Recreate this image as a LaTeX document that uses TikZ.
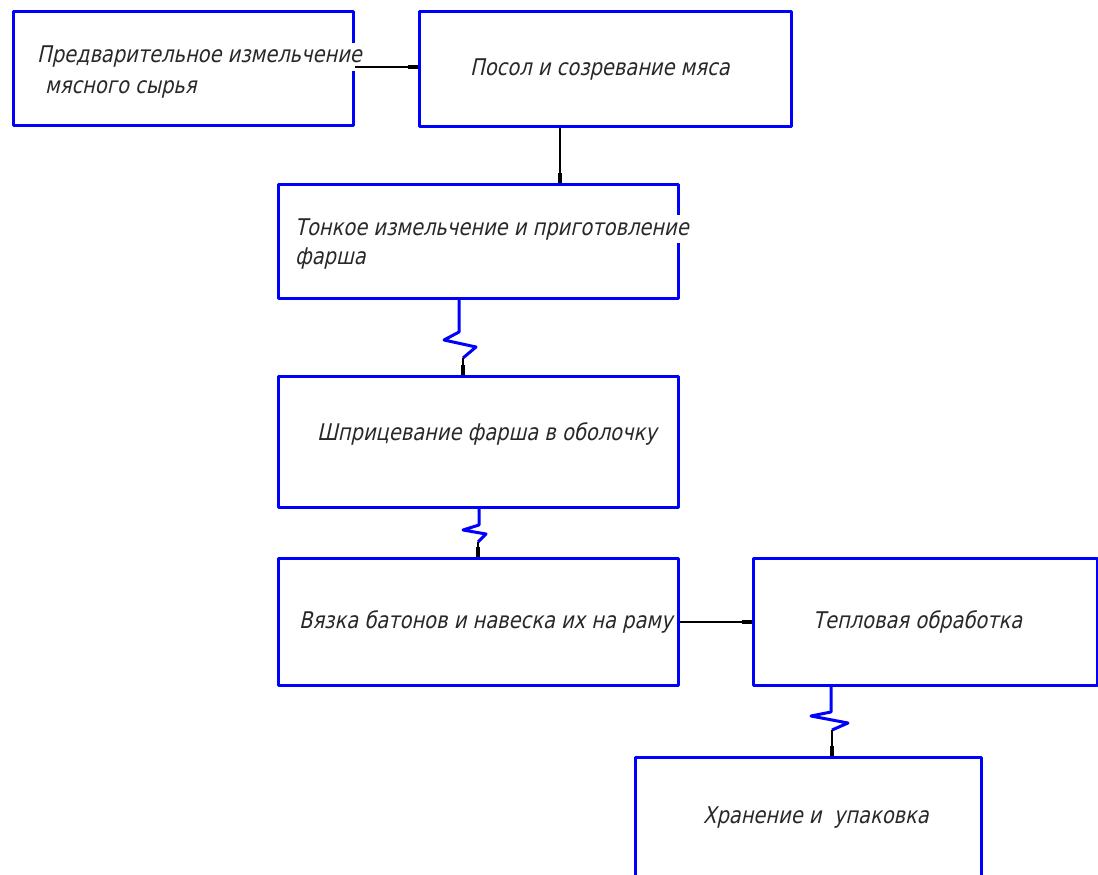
\documentclass[tikz,border=0pt]{standalone}
\usepackage{fontspec}
\newfontfamily\gost{DejaVu Sans}[FakeSlant=0.22,FakeStretch=0.845]
\usetikzlibrary{arrows.meta}
\definecolor{cadblue}{RGB}{0,0,255}
\definecolor{txtgray}{RGB}{40,40,40}
\begin{document}
\begin{tikzpicture}[x=1pt,y=-1pt,
  box/.style={draw=cadblue,line width=3pt,anchor=north west,inner sep=0pt,line join=round},
  lbl/.style={anchor=base west,inner sep=3pt,fill=white,text=txtgray,font=\gost\fontsize{23}{27}\selectfont},
  conn/.style={draw=black,line width=1.3pt,-{Rectangle[length=10pt,width=4.5pt]}},
  zig/.style={draw=cadblue,line width=3pt,line join=round}]
\useasboundingbox (0,0) rectangle (1098,875);
% boxes
\node[box,minimum width=340pt,minimum height=114pt] (b1) at (12,10) {};
\node[box,minimum width=372pt,minimum height=115pt] (b2) at (418,10) {};
\node[box,minimum width=400pt,minimum height=114pt] (b3) at (277,183) {};
\node[box,minimum width=400pt,minimum height=131pt] (b4) at (277,375) {};
\node[box,minimum width=400pt,minimum height=127pt] (b5) at (277,557) {};
\node[box,minimum width=344pt,minimum height=127pt] (b6) at (752,557) {};
\node[box,minimum width=346pt,minimum height=119pt] (b7) at (634,756) {};
% labels
\node[lbl] (t1a) at (34,63) {Предварительное измельчение};
\node[lbl] (t1b) at (42,93) {мясного сырья};
\node[lbl] (t2) at (467,75) {Посол и созревание мяса};
\node[lbl] (t3a) at (292,235) {Тонкое измельчение и приготовление};
\node[lbl] (t3b) at (292,264) {фарша};
\node[lbl] (t4) at (314,440) {Шприцевание фарша в оболочку};
\node[lbl] (t5) at (296,628) {Вязка батонов и навеска их на раму};
\node[lbl] (t6) at (810,628) {Тепловая обработка};
\node[lbl] (t7) at (700,823) {Хранение и\ \ упаковка};
% coordinates
\coordinate (h12) at (0,67);
\coordinate (v23) at (560,0);
\coordinate (z1) at (459,332);
\coordinate (z2) at (444,340);
\coordinate (z3) at (476,347);
\coordinate (z4) at (463,358);
\coordinate (y1) at (479,525);
\coordinate (y2) at (463,530);
\coordinate (y3) at (486,534);
\coordinate (y4) at (478,542);
\coordinate (h56) at (0,622);
\coordinate (w1) at (831,712);
\coordinate (w2) at (811,716);
\coordinate (w3) at (848,723);
\coordinate (w4) at (832,730);
% connectors
\draw[conn] (b1.east |- h12) -- (b2.west |- h12);
\draw[conn] (b2.south -| v23) -- (b3.north -| v23);
\draw[zig] (b3.south -| z1) -- (z1) -- (z2) -- (z3) -- (z4);
\draw[conn] (z4) -- (b4.north -| z4);
\draw[zig] (b4.south -| y1) -- (y1) -- (y2) -- (y3) -- (y4);
\draw[conn] (y4) -- (b5.north -| y4);
\draw[conn] (b5.east |- h56) -- (b6.west |- h56);
\draw[zig] (b6.south -| w1) -- (w1) -- (w2) -- (w3) -- (w4);
\draw[conn] (w4) -- (b7.north -| w4);
\end{tikzpicture}
\end{document}
